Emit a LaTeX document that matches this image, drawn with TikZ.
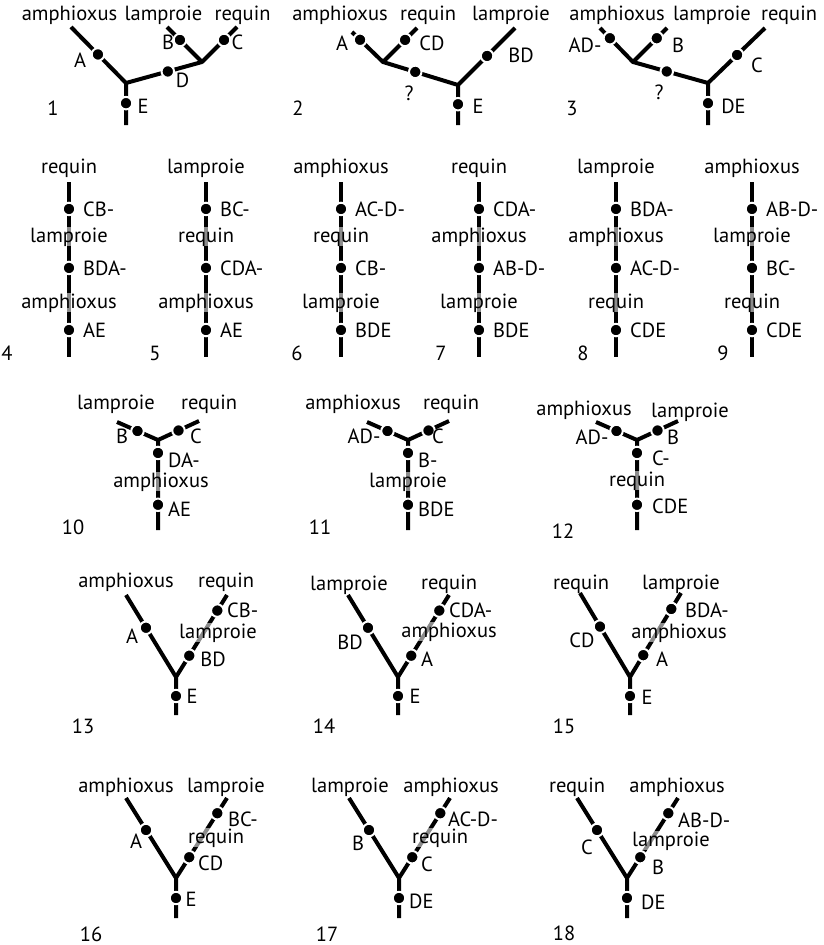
\documentclass[tikz,border=0pt]{standalone}
\usepackage{fontspec}
\setmainfont{PT Sans}
\newcommand{\treefont}{\fontsize{20.5}{20.5}\selectfont}
\tikzset{
  branch/.style={line width=4pt},
  knot/.style={circle, fill=black, draw=white, line width=2pt, inner sep=0pt, minimum size=12.5pt},
  word/.style={inner sep=0pt, font=\treefont, anchor=base, yshift=-5pt},
  letters/.style={inner sep=0pt, font=\treefont, anchor=base, yshift=-7pt},
  side/.style={letters, anchor=base west},
  veil/.style={word, fill=white, fill opacity=.55, text opacity=1},
}

\begin{document}
\begin{tikzpicture}[x=1pt, y=-1pt, line join=round]
\useasboundingbox (0,0) rectangle (823,945);

% arbre 1
\path
(71,27) coordinate (a1)
(126,83) coordinate (j1)
(126,125) coordinate (s1)
(202,62) coordinate (k1)
(167,27) coordinate (b1)
(237,27) coordinate (c1);
\draw[branch] (a1)--(j1)--(k1) (j1)--(s1) (b1)--(k1)--(c1);
\path (a1) -- node[knot,pos=.49] (kA1) {} (j1)
  (j1) -- node[knot,pos=.48] (kE1) {} (s1)
  (j1) -- node[knot,pos=.55] (kD1) {} (k1)
  (b1) -- node[knot,pos=.37] (kB1) {} (k1)
  (c1) -- node[knot,pos=.37] (kC1) {} (k1);
\node[word] (w1a) at (69.5,15) {amphioxus};
\node[word] (w1b) at (163.5,15) {lamproie};
\node[word] (w1c) at (242.5,15) {requin};
\node[letters] (A1) at (80,60) {A};
\node[letters] (B1) at (168,42) {B};
\node[letters] (C1) at (237.5,42) {C};
\node[letters] (D1) at (182.5,80) {D};
\node[letters] (E1) at (143,106) {E};
\node[letters] (n1) at (53,108) {1};

% arbre 2
\path
(352,32) coordinate (a2)
(383,62) coordinate (j2)
(417,28) coordinate (c2)
(458,85) coordinate (k2)
(515,28) coordinate (b2)
(458,125) coordinate (s2);
\draw[branch] (a2)--(j2)--(k2)--(b2) (c2)--(j2) (k2)--(s2);
\path (a2) -- node[knot,pos=.26] (kA2) {} (j2)
  (c2) -- node[knot,pos=.35] (kC2) {} (j2)
  (j2) -- node[knot,pos=.43] (kQ2) {} (k2)
  (b2) -- node[knot,pos=.49] (kB2) {} (k2)
  (k2) -- node[knot,pos=.48] (kE2) {} (s2);
\node[word] (w2a) at (340,15) {amphioxus};
\node[word] (w2b) at (428,15) {requin};
\node[word] (w2c) at (511,15) {lamproie};
\node[letters] (A2) at (342,43) {A};
\node[letters] (CD2) at (432,43) {CD};
\node[letters] (Q2) at (409,93) {?};
\node[letters] (BD2) at (521,55) {BD};
\node[letters] (E2) at (478,106) {E};
\node[letters] (n2) at (298,108) {2};

% arbre 3
\path
(600,28) coordinate (a3)
(633,62) coordinate (j3)
(667,28) coordinate (b3)
(708,83) coordinate (k3)
(765,28) coordinate (c3)
(708,125) coordinate (s3);
\draw[branch] (a3)--(j3)--(k3)--(c3) (b3)--(j3) (k3)--(s3);
\path (a3) -- node[knot,pos=.3] (kA3) {} (j3)
  (b3) -- node[knot,pos=.3] (kB3) {} (j3)
  (j3) -- node[knot,pos=.45] (kQ3) {} (k3)
  (c3) -- node[knot,pos=.49] (kC3) {} (k3)
  (k3) -- node[knot,pos=.48] (kE3) {} (s3);
\node[word] (w3a) at (617,15) {amphioxus};
\node[word] (w3b) at (712,15) {lamproie};
\node[word] (w3c) at (789,15) {requin};
\node[letters] (AD3) at (585,45) {AD-};
\node[letters] (B3) at (678,45) {B};
\node[letters] (Q3) at (659,92) {?};
\node[letters] (C3) at (757,65) {C};
\node[letters] (DE3) at (733.5,106) {DE};
\node[letters] (n3) at (572,108) {3};

% arbres 4 a 9
\foreach \n/\x/\nx/\up/\pa/\wa/\pb/\wb/\pc in {
  4/69/7/requin/CB-/lamproie/BDA-/amphioxus/AE,
  5/206/155/lamproie/BC-/requin/CDA-/amphioxus/AE,
  6/341/297/amphioxus/AC-D-/requin/CB-/lamproie/BDE,
  7/479/441/requin/CDA-/amphioxus/AB-D-/lamproie/BDE,
  8/616/583/lamproie/BDA-/amphioxus/AC-D-/requin/CDE,
  9/752/723/amphioxus/AB-D-/lamproie/BC-/requin/CDE}{
  \path (\x,182) coordinate (t\n) (\x,357) coordinate (f\n);
  \draw[branch] (t\n) -- (f\n);
  \path (t\n) -- node[knot,pos=.154] (d\n-a) {} node[knot,pos=.491] (d\n-b) {}
    node[knot,pos=.846] (d\n-c) {} (f\n);
  \node[word] (w\n) at (\x,168) {\up};
  \node[side] (s\n-a) at (\x+14,209) {\pa};
  \node[veil] (v\n-a) at (\x,237) {\wa};
  \node[side] (s\n-b) at (\x+14,268) {\pb};
  \node[veil] (v\n-b) at (\x,303) {\wb};
  \node[side] (s\n-c) at (\x+14,330) {\pc};
  \node[letters] (n\n) at (\nx,353) {\n};
}

% arbres 10 a 12
\foreach \n/\jx in {10/158, 11/408, 12/637}{
  \path (\jx,440) coordinate (j\n) ++(-41,-18) coordinate (l\n)
    (j\n) ++(41,-19) coordinate (r\n) (j\n) ++(0,90) coordinate (s\n);
  \draw[branch] (l\n) -- (j\n) -- (r\n) (j\n) -- (s\n);
  \path (j\n) -- node[knot,pos=.5] (kl\n) {} (l\n)
    (j\n) -- node[knot,pos=.5] (kr\n) {} (r\n)
    (j\n) -- node[knot,pos=.144] (ka\n) {} node[knot,pos=.72] (kb\n) {} (s\n);
}
\node[word] (w10a) at (116,404) {lamproie};
\node[word] (w10b) at (209,404) {requin};
\node[letters] (B10) at (122,436) {B};
\node[letters] (C10) at (196,436) {C};
\node[side] (DA10) at (168,460) {DA-};
\node[veil] (v10) at (161,482) {amphioxus};
\node[side] (AE10) at (168,509) {AE};
\node[letters] (n10) at (73,527) {10};

\node[word] (w11a) at (353,404) {amphioxus};
\node[word] (w11b) at (451,404) {requin};
\node[letters] (AD11) at (364,436) {AD-};
\node[letters] (C11) at (438,436) {C};
\node[side] (B11) at (418,460) {B-};
\node[veil] (v11) at (408,482) {lamproie};
\node[side] (BDE11) at (418,509) {BDE};
\node[letters] (n11) at (320,527) {11};

\node[word] (w12a) at (584,410) {amphioxus};
\node[word] (w12b) at (690,412) {lamproie};
\node[letters] (AD12) at (592,437) {AD-};
\node[letters] (B12) at (673,437) {B};
\node[side] (C12) at (652,458) {C-};
\node[veil] (v12) at (637,481) {requin};
\node[side] (CDE12) at (652,506) {CDE};
\node[letters] (n12) at (563,531) {12};

% arbres 13 a 18
\foreach \n/\jx/\jy/\h/\st in {13/176/677/82/38, 14/398/677/82/38, 15/630/677/84/38,
  16/176/878/80/40, 17/399/878/80/40, 18/627/878/80/40}{
  \path (\jx,\jy) coordinate (j\n) ++(-50,-\h) coordinate (l\n)
    (j\n) ++(51,-\h) coordinate (r\n) (j\n) ++(0,\st) coordinate (s\n);
  \draw[branch] (l\n) -- (j\n) -- (r\n) (j\n) -- (s\n);
  \path (j\n) -- node[knot,pos=.6] (kl\n) {} (l\n)
    (j\n) -- node[knot,pos=.26] (kr\n) {} node[knot,pos=.81] (ku\n) {} (r\n)
    (j\n) -- node[knot,pos=.5] (ks\n) {} (s\n);
}
\node[word] (w13a) at (126,582) {amphioxus};
\node[word] (w13b) at (226,582) {requin};
\node[letters] (A13) at (132,636) {A};
\node[side] (CB13) at (227,610) {CB-};
\node[veil] (v13) at (218,633) {lamproie};
\node[letters] (BD13) at (213,659) {BD};
\node[letters] (E13) at (192,696) {E};
\node[letters] (n13) at (83,726) {13};

\node[word] (w14a) at (349,585) {lamproie};
\node[word] (w14b) at (449,584) {requin};
\node[letters] (BD14) at (350,642) {BD};
\node[side] (CDA14) at (449,610) {CDA-};
\node[veil] (v14) at (449,632) {amphioxus};
\node[letters] (A14) at (427,659) {A};
\node[letters] (E14) at (415,696) {E};
\node[letters] (n14) at (324,726) {14};

\node[word] (w15a) at (581,584) {requin};
\node[word] (w15b) at (681,584) {lamproie};
\node[letters] (CD15) at (582,640) {CD};
\node[side] (BDA15) at (685,610) {BDA-};
\node[veil] (v15) at (679,633) {amphioxus};
\node[letters] (A15) at (662,659) {A};
\node[letters] (E15) at (647,697) {E};
\node[letters] (n15) at (564,726) {15};

\node[word] (w16a) at (126,787) {amphioxus};
\node[word] (w16b) at (226,787) {lamproie};
\node[letters] (A16) at (136,841) {A};
\node[side] (BC16) at (228,819) {BC-};
\node[veil] (v16) at (216,838) {requin};
\node[side] (CD16) at (198,863) {CD};
\node[letters] (E16) at (191,899) {E};
\node[letters] (n16) at (91,934) {16};

\node[word] (w17a) at (350,787) {lamproie};
\node[word] (w17b) at (451,787) {amphioxus};
\node[letters] (B17) at (358,843) {B};
\node[side] (ACD17) at (448,819) {AC-D-};
\node[veil] (v17) at (440,838) {requin};
\node[letters] (C17) at (427,864) {C};
\node[side] (DE17) at (409,901) {DE};
\node[letters] (n17) at (327,934) {17};

\node[word] (w18a) at (577,787) {requin};
\node[word] (w18b) at (677,787) {amphioxus};
\node[letters] (C18) at (587,847) {C};
\node[side] (ABD18) at (678,820) {AB-D-};
\node[veil] (v18) at (671,841) {lamproie};
\node[letters] (B18) at (658,867) {B};
\node[side] (DE18) at (641,902) {DE};
\node[letters] (n18) at (564,933) {18};
\end{tikzpicture}
\end{document}
